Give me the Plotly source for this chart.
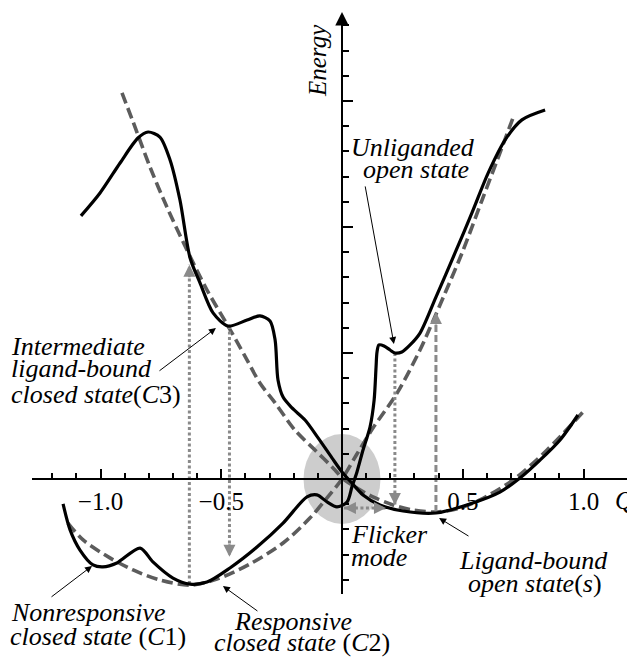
import plotly.graph_objects as go

# ---------------- data (reaction coordinate Q, Energy) ----------------
# ligand-bound landscape (solid)
bound_q = [-1.081, -1.002, -0.919, -0.845, -0.803, -0.754, -0.712, -0.671, -0.629, -0.588,
           -0.534, -0.472, -0.393, -0.340, -0.298, -0.277, -0.265, -0.244, -0.207, -0.153,
           -0.099, -0.041, 0.000, 0.041, 0.087, 0.157, 0.253, 0.389, 0.542, 0.654,
           0.737, 0.820, 0.903, 0.977]
bound_e = [1.044, 1.135, 1.254, 1.353, 1.377, 1.357, 1.266, 1.107, 0.877, 0.778,
           0.659, 0.607, 0.631, 0.647, 0.627, 0.552, 0.393, 0.325, 0.282, 0.234,
           0.163, 0.083, 0.028, -0.016, -0.063, -0.103, -0.127, -0.135, -0.095, -0.052,
           0.004, 0.075, 0.155, 0.254]

# unliganded landscape (solid)
unlig_q = [-1.155, -1.126, -1.085, -1.031, -0.990, -0.932, -0.836, -0.783, -0.700, -0.629,
           -0.559, -0.464, -0.352, -0.244, -0.145, -0.104, -0.062, -0.021, 0.021, 0.041,
           0.062, 0.087, 0.116, 0.133, 0.141, 0.145, 0.153, 0.174, 0.199, 0.219,
           0.248, 0.282, 0.323, 0.389, 0.468, 0.538, 0.605, 0.675, 0.745, 0.841]
unlig_e = [-0.099, -0.202, -0.282, -0.341, -0.349, -0.333, -0.274, -0.329, -0.393, -0.417,
           -0.409, -0.353, -0.270, -0.175, -0.071, -0.063, -0.091, -0.111, -0.091, -0.032,
           0.028, 0.115, 0.206, 0.313, 0.444, 0.504, 0.532, 0.528, 0.512, 0.500,
           0.504, 0.532, 0.579, 0.722, 0.897, 1.056, 1.214, 1.345, 1.425, 1.464]

# closed-state harmonic well (dashed)
closed_q = [-1.135, -1.072, -0.961, -0.865, -0.754, -0.629, -0.518, -0.381, -0.244, -0.133,
            -0.062, 0.000, 0.062, 0.128, 0.228, 0.323, 0.364, 0.427, 0.497, 0.580, 0.663, 0.708]
closed_e = [-0.175, -0.242, -0.313, -0.361, -0.401, -0.421, -0.397, -0.337, -0.254, -0.155,
            -0.075, 0.000, 0.099, 0.202, 0.341, 0.512, 0.599, 0.738, 0.897, 1.107, 1.317, 1.433]

# open-state harmonic well (dashed)
open_q = [-0.911, -0.865, -0.795, -0.725, -0.642, -0.559, -0.472, -0.402, -0.340, -0.277,
          -0.195, -0.112, -0.029, 0.000, 0.062, 0.128, 0.211, 0.294, 0.393, 0.489,
          0.571, 0.708, 0.849, 0.998]
open_e = [1.532, 1.417, 1.238, 1.079, 0.909, 0.750, 0.607, 0.488, 0.381, 0.302,
          0.194, 0.115, 0.036, 0.005, -0.036, -0.071, -0.103, -0.123, -0.131, -0.115,
          -0.083, -0.004, 0.115, 0.266]

# vertical transitions: Q, start energy, end energy
trans_q = [-0.632, -0.466, 0.219, 0.389]
trans_from = [-0.417, 0.607, 0.500, -0.131]
trans_to = [0.850, -0.309, -0.103, 0.663]

# flicker mode (horizontal, both directions)
flicker_e = -0.115
flicker_q = [0.008, 0.182]

# ticks
x_major = [-1.0, -0.5, 0.5, 1.0]
x_major_text = ["\u22121.0", "\u22120.5", "0.5", "1.0"]
x_minor = [-1.2, -1.1, -0.9, -0.8, -0.7, -0.6, -0.4, -0.3, -0.2, -0.1,
           0.1, 0.2, 0.3, 0.4, 0.6, 0.7, 0.8, 0.9]
y_major = [0.5, 1.0, 1.5]
y_minor = [-0.4, -0.3, -0.2, -0.1, 0.1, 0.2, 0.3, 0.4, 0.6, 0.7, 0.8, 0.9,
           1.1, 1.2, 1.3, 1.4, 1.6, 1.7, 1.8]

# ---------------- geometry / style ----------------
PAGE = 8                   # default body margin of the html page
W, H = 635 - PAGE, 660 - PAGE
OX, OY = 342 - PAGE, 479 - PAGE   # figure-pixel position of origin
SX, SY = 241.5, 252.0      # pixels per unit
XR = [-OX / SX, (W - OX) / SX]
YR = [-(H - OY) / SY, OY / SY]
AX_LEFT_PX, AX_BOTTOM_PX, AX_TOP_PX = 32 - PAGE, 594 - PAGE, 20 - PAGE
ARROW_TIP_PX = 12 - PAGE

FONT = "Liberation Serif"
BLACK = "black"
DASHGREY = "#5c5c5c"
DOTGREY = "#8a8a8a"
trans_dash = ["3px,2.5px", "3px,2.5px", "3px,2.5px", "7px,3px"]

fig = go.Figure()

# highlight around the crossing point (flicker region)
fig.add_shape(type="circle", xref="x", yref="y", layer="below",
              x0=-38.5 / SX, x1=38.5 / SX, y0=-45 / SY, y1=45 / SY,
              fillcolor="#cdcdcd", line=dict(width=0))

for q, e in [(closed_q, closed_e), (open_q, open_e)]:
    fig.add_trace(go.Scatter(x=q, y=e, mode="lines",
                             line=dict(color=DASHGREY, width=3.6, dash="11px,5px",
                                       shape="spline", smoothing=0.9),
                             hoverinfo="skip", showlegend=False))

annotations = []
for q, e0, e1, d in zip(trans_q, trans_from, trans_to, trans_dash):
    fig.add_trace(go.Scatter(x=[q, q], y=[e0, e1], mode="lines",
                             line=dict(color=DOTGREY, width=3, dash=d),
                             hoverinfo="skip", showlegend=False))
    up = e1 > e0
    annotations.append(dict(x=q, y=e1, xref="x", yref="y", text="", showarrow=True,
                            ax=0, ay=14 if up else -14, arrowhead=2, arrowsize=1,
                            arrowwidth=2.4, arrowcolor=DOTGREY))

fig.add_trace(go.Scatter(x=flicker_q, y=[flicker_e, flicker_e], mode="lines",
                         line=dict(color=DOTGREY, width=3, dash="3px,2.5px"),
                         hoverinfo="skip", showlegend=False))
annotations.append(dict(x=flicker_q[0], y=flicker_e, text="", showarrow=True, ax=14, ay=0,
                        arrowhead=2, arrowsize=1, arrowwidth=2.4, arrowcolor=DOTGREY))
annotations.append(dict(x=flicker_q[1], y=flicker_e, text="", showarrow=True, ax=-14, ay=0,
                        arrowhead=2, arrowsize=1, arrowwidth=2.4, arrowcolor=DOTGREY))

for q, e in [(bound_q, bound_e), (unlig_q, unlig_e)]:
    fig.add_trace(go.Scatter(x=q, y=e, mode="lines",
                             line=dict(color=BLACK, width=3.2, shape="spline", smoothing=0.8),
                             hoverinfo="skip", showlegend=False))

# dummy point to register the axis subplot
fig.add_trace(go.Scatter(x=[0.0], y=[0.0], xaxis="x2", yaxis="y2", mode="markers",
                         marker=dict(opacity=0), hoverinfo="skip", showlegend=False))

# energy axis arrowhead
annotations.append(dict(x=0, y=(OY - ARROW_TIP_PX) / SY, text="", showarrow=True, ax=0, ay=14,
                        arrowhead=2, arrowsize=1, arrowwidth=2.7, arrowcolor=BLACK))

# pointer lines: head (q, e), tail (q, e)
pointers = [
    ((0.215, 0.536), (0.095, 1.167)),
    ((-0.522, 0.599), (-0.762, 0.425)),
    ((-1.035, -0.345), (-1.209, -0.472)),
    ((-0.493, -0.425), (-0.344, -0.528)),
    ((0.402, -0.155), (0.530, -0.230)),
]
for (hx, hy), (tx, ty) in pointers:
    annotations.append(dict(x=hx, y=hy, ax=tx, ay=ty, axref="x", ayref="y", xref="x", yref="y",
                            text="", showarrow=True, arrowhead=2, arrowsize=1.4,
                            arrowwidth=1, arrowcolor=BLACK))

# text labels: text, q, e, xanchor
labels = [
    ("<i>Unliganded</i>", 0.294, 1.317, "center"),
    ("<i>open state</i>", 0.306, 1.230, "center"),
    ("<i>Intermediate</i>", -1.378, 0.524, "left"),
    ("<i>ligand-bound</i>", -1.378, 0.440, "left"),
    ("<i>closed state</i>(<i>C</i>3)", -1.378, 0.337, "left"),
    ("<i>Nonresponsive</i>", -1.378, -0.528, "left"),
    ("<i>closed state</i> (<i>C</i>1)", -1.381, -0.623, "left"),
    ("<i>Responsive</i>", -0.455, -0.567, "left"),
    ("<i>closed state</i> (<i>C</i>2)", -0.538, -0.647, "left"),
    ("<i>Flicker</i>", 0.029, -0.222, "left"),
    ("<i>mode</i>", 0.029, -0.310, "left"),
    ("<i>Ligand-bound</i>", 0.795, -0.325, "center"),
    ("<i>open state</i>(<i>s</i>)", 0.799, -0.413, "center"),
]
for t, q, e, xa in labels:
    annotations.append(dict(x=q, y=e, xref="x", yref="y", text=t, showarrow=False,
                            xanchor=xa, yanchor="middle",
                            font=dict(family=FONT, size=26, color=BLACK)))

annotations.append(dict(x=-0.099, y=1.659, text="<i>Energy</i>", showarrow=False,
                        textangle=-90, xanchor="center", yanchor="middle",
                        font=dict(family=FONT, size=25, color=BLACK)))
annotations.append(dict(x=XR[1] - 0.002, y=-0.087, text="<i>Q</i>", showarrow=False,
                        xanchor="right", yanchor="middle",
                        font=dict(family=FONT, size=25, color=BLACK)))

fig.update_layout(
    width=W, height=H, margin=dict(l=0, r=0, t=0, b=0, pad=0),
    paper_bgcolor="white", plot_bgcolor="rgba(0,0,0,0)", showlegend=False,
    xaxis=dict(range=XR, visible=False, domain=[0, 1], fixedrange=True),
    yaxis=dict(range=YR, visible=False, domain=[0, 1], fixedrange=True),
    xaxis2=dict(domain=[AX_LEFT_PX / W, 1], range=[(AX_LEFT_PX - OX) / SX, XR[1]],
                anchor="free", position=(H - OY) / H,
                showline=True, linecolor=BLACK, linewidth=2.4, showgrid=False, zeroline=False,
                ticks="inside", ticklen=9, tickwidth=2, tickcolor=BLACK,
                tickmode="array", tickvals=x_major, ticktext=x_major_text,
                tickfont=dict(family=FONT, size=25, color=BLACK),
                minor=dict(tickmode="array", tickvals=x_minor, ticks="inside", ticklen=5,
                           tickwidth=2, tickcolor=BLACK, showgrid=False)),
    yaxis2=dict(domain=[(H - AX_BOTTOM_PX) / H, (H - AX_TOP_PX) / H],
                range=[(OY - AX_BOTTOM_PX) / SY, (OY - AX_TOP_PX) / SY],
                anchor="free", position=OX / W, side="left",
                showline=True, linecolor=BLACK, linewidth=2.4, showgrid=False, zeroline=False,
                ticks="inside", ticklen=10, tickwidth=2, tickcolor=BLACK,
                tickmode="array", tickvals=y_major, showticklabels=False,
                minor=dict(tickmode="array", tickvals=y_minor, ticks="inside", ticklen=6,
                           tickwidth=2, tickcolor=BLACK, showgrid=False)),
    annotations=annotations,
)

fig.write_html("out.html")
